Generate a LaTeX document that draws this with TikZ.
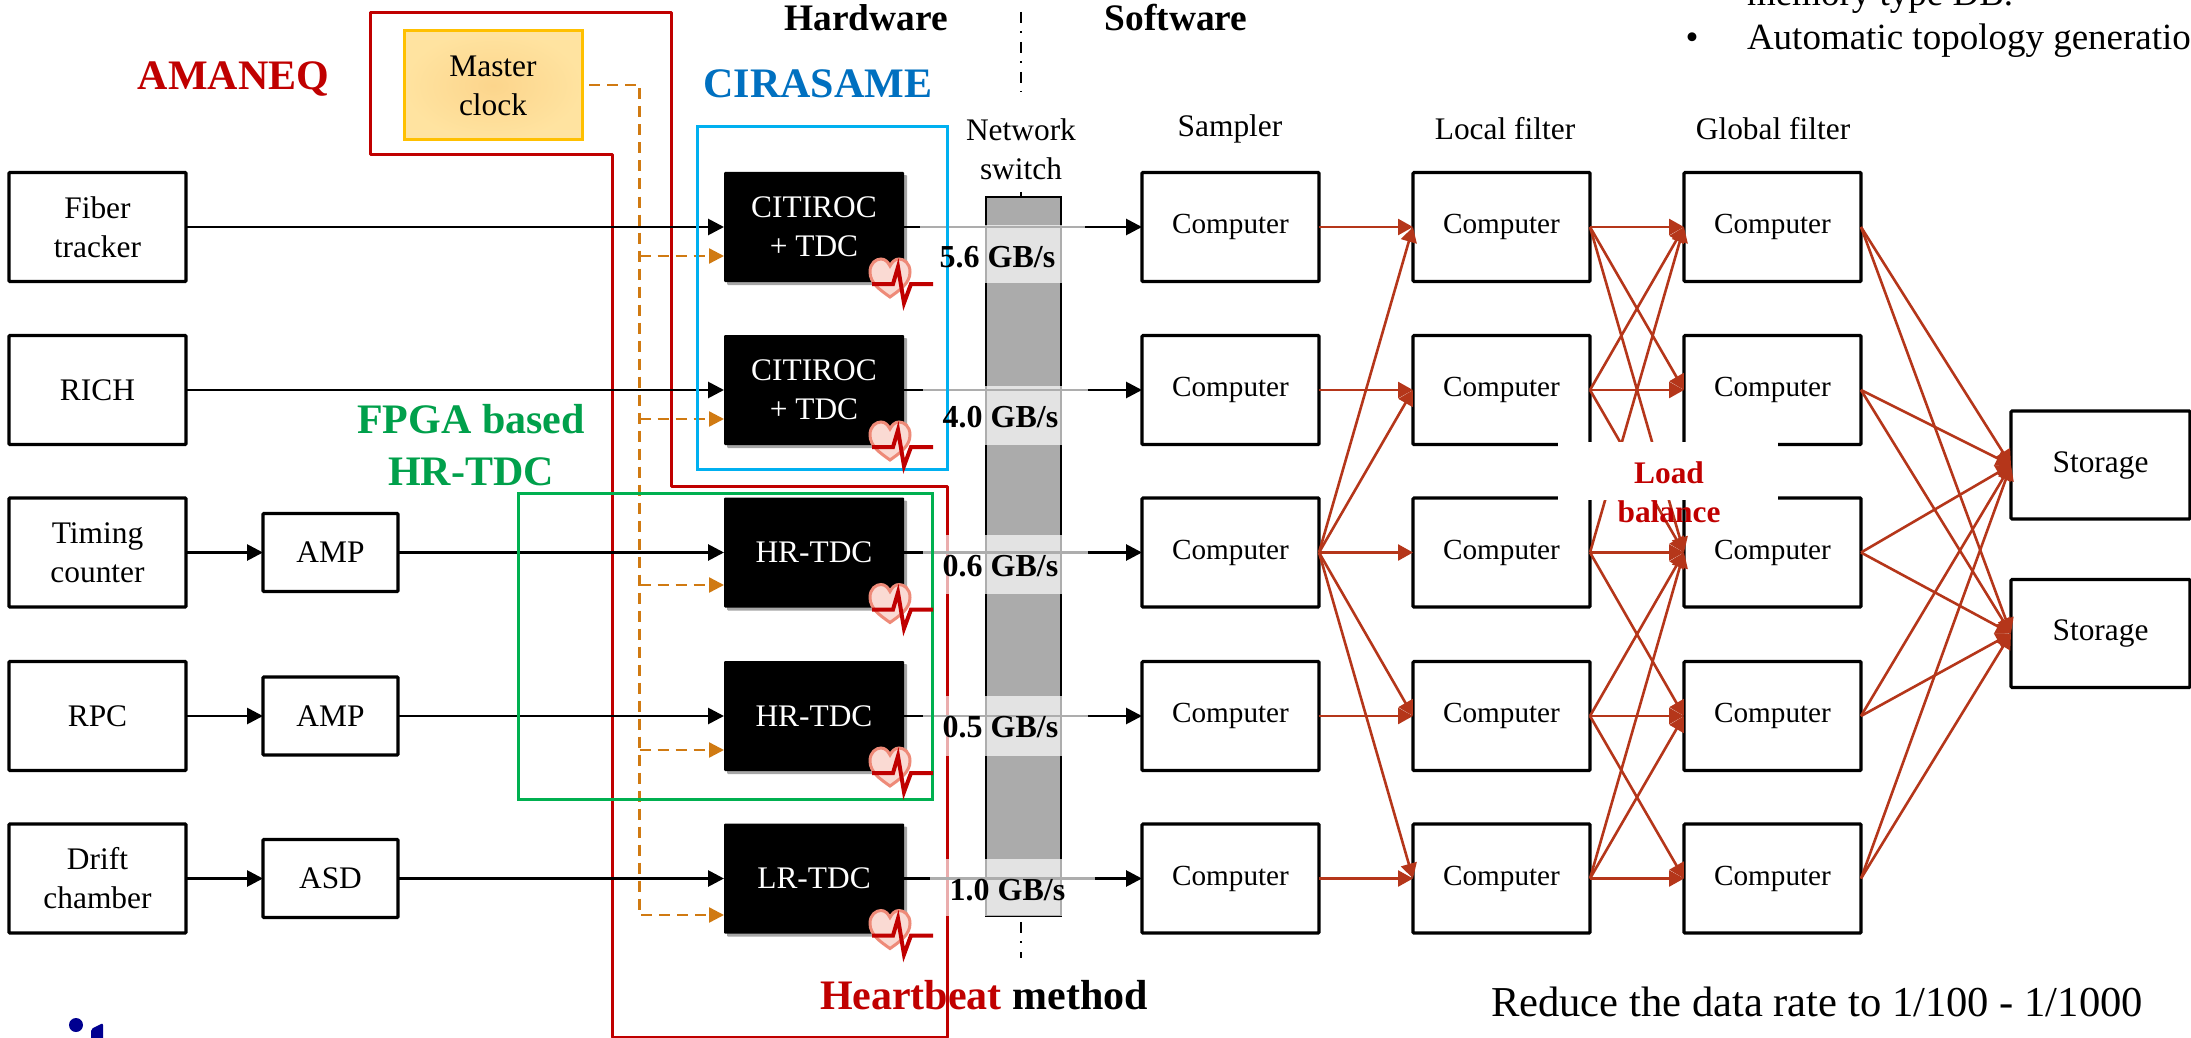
\documentclass[tikz,border=0pt]{standalone}
\usepackage{fontspec}
\setmainfont{Liberation Serif}
\usetikzlibrary{arrows.meta,shadows}
\definecolor{fred}{HTML}{C00000}
\definecolor{mesh}{HTML}{B5361A}
\definecolor{cyanframe}{HTML}{00B0F0}
\definecolor{greenframe}{HTML}{00B050}
\definecolor{bluetxt}{HTML}{0070C0}
\definecolor{greentxt}{HTML}{00A04B}
\definecolor{clockline}{HTML}{D07A12}
\definecolor{logoblue}{HTML}{000090}
\definecolor{heartfill}{HTML}{FADAD3}
\definecolor{heartline}{HTML}{EE8A78}
\tikzset{
  sz/.style 2 args={minimum width=#1*0.5pt,minimum height=#2*0.5pt},
  plain/.style={inner sep=0pt,outer sep=0pt,align=center,font=\fontsize{15.7}{19.5}\selectfont},
  boxn/.style={plain,draw=black,line width=1.6pt,rounded corners=0.5pt,fill=white},
  detbox/.style={boxn,sz={177}{109}},
  ampbox/.style={boxn,sz={135}{78}},
  compbox/.style={boxn,sz={177}{109},font=\fontsize{14.6}{19.5}\selectfont},
  storebox/.style={boxn,sz={179}{108}},
  tdcbox/.style={plain,fill=black,text=white,sz={180}{110},rounded corners=0.5pt,
    drop shadow={shadow xshift=1.6pt,shadow yshift=-1.6pt,opacity=.35,fill=black},
    },
  blk/.style={line width=1.4pt,draw=black,-{Triangle[length=8pt,width=8pt]}},
  clk/.style={line width=1.2pt,draw=clockline,dash pattern=on 5.5pt off 3.5pt,-{Triangle[length=7.5pt,width=7.5pt,fill=clockline]}},
  red/.style={line width=1.3pt,draw=mesh,-{Triangle[length=7.5pt,width=8pt,fill=mesh]}},
  bandn/.style={plain,fill=white,fill opacity=.68,text opacity=1},
  rate/.style={plain,font=\fontsize{16}{19}\selectfont\bfseries,text=black},
  bigb/.style={plain,font=\fontsize{21}{26}\selectfont\bfseries},
  headb/.style={plain,font=\fontsize{18.7}{22}\selectfont\bfseries},
  divl/.style={line width=1.2pt,draw=black,dash pattern=on 5.5pt off 4pt on 1pt off 4.5pt},
  hb/.pic={
    \draw[line width=1.5pt,draw=heartline,fill=heartfill]
      (-14,15) .. controls (-24,8) and (-34,1) .. (-34,-10)
      .. controls (-34,-19) and (-28,-23) .. (-23,-23)
      .. controls (-19,-23) and (-16,-20) .. (-14,-16)
      .. controls (-12,-20) and (-9,-23) .. (-5,-23)
      .. controls (0,-23) and (6,-19) .. (6,-10)
      .. controls (6,1) and (-4,8) .. (-14,15) -- cycle;
    \draw[line width=2pt,draw=fred,line join=miter]
      (-32,2) -- (-11,2) -- (-6,-15) -- (0,21) -- (7,2) -- (29,2);
  },
}
\begin{document}
\begin{tikzpicture}[x=0.5pt,y=-0.5pt]
\useasboundingbox (0,0) rectangle (2191,1038);
\clip (0,0) rectangle (2191,1038);
\fill[white] (0,0) rectangle (2191,1038);

% divider
\coordinate (da) at (1021,12); \coordinate (db) at (1021,92);
\coordinate (dc) at (1021,192); \coordinate (dd) at (1021,198);
\coordinate (de) at (1021,922); \coordinate (df) at (1021,958);
\draw[divl] (da) -- (db);
\draw[line width=1.2pt] (dc) -- (dd);
\draw[divl] (de) -- (df);

% AMANEQ frame
\draw[line width=1.5pt,draw=fred,line join=round]
  (370,13) -- (671,13) -- (671,486) -- (947,486) -- (947,1037) -- (612,1037) -- (612,155) -- (370,155) -- cycle;

% switch
\node[plain,draw=black,line width=1.4pt,fill=black!33,sz={75}{719}] (sw) at (1023.5,556.5) {};

% detector boxes
\node[detbox] (d1) at (97.5,227) {Fiber\\tracker};
\node[detbox] (d2) at (97.5,390) {RICH};
\node[detbox] (d3) at (97.5,552.5) {Timing\\counter};
\node[detbox] (d4) at (97.5,716) {RPC};
\node[detbox] (d5) at (97.5,878.5) {Drift\\chamber};
\node[ampbox] (a3) at (330.5,552.5) {AMP};
\node[ampbox] (a4) at (330.5,716) {AMP};
\node[ampbox] (a5) at (330.5,878.5) {ASD};

% TDCs
\node[tdcbox] (t1) at (814,227) {CITIROC\\+ TDC};
\node[tdcbox] (t2) at (814,390) {CITIROC\\+ TDC};
\node[tdcbox] (t3) at (814,552.5) {HR-TDC};
\node[tdcbox] (t4) at (814,716) {HR-TDC};
\node[tdcbox] (t5) at (814,878.5) {LR-TDC};

% samplers, filters, storage
\foreach \r/\y in {1/227,2/390,3/552.5,4/716,5/878.5}{
  \node[compbox] (s\r) at (1230.5,\y) {Computer};
  \node[compbox] (l\r) at (1501.5,\y) {Computer};
  \node[compbox] (g\r) at (1772.5,\y) {Computer};
}
\node[storebox] (st1) at (2100.5,465) {Storage};
\node[storebox] (st2) at (2100.5,633.5) {Storage};

% master clock
\node[plain,draw={rgb,255:red,255;green,192;blue,0},line width=1.5pt,inner color={rgb,255:red,252;green,213;blue,140},outer color={rgb,255:red,255;green,227;blue,160},sz={178}{109}] (mc) at (493,85.5) {Master\\clock};

% black connectors
\draw[blk] (d1) -- (t1);
\draw[blk] (d2) -- (t2);
\draw[blk] (d3) -- (a3);
\draw[blk] (d4) -- (a4);
\draw[blk] (d5) -- (a5);
\draw[blk] (a3) -- (t3);
\draw[blk] (a4) -- (t4);
\draw[blk] (a5) -- (t5);
\foreach \r in {1,...,5}{ \draw[blk] (t\r) -- (s\r); }

% clock distribution
\coordinate (ms) at (589,85);
\coordinate (mk) at (639.5,85);
\coordinate (b1) at (639.5,256);
\coordinate (b2) at (639.5,419);
\coordinate (b3) at (639.5,585);
\coordinate (b4) at (639.5,750);
\coordinate (b5) at (639.5,915);
\draw[clk] (ms) -- (mk) -- (b5) -- (b5 -| t5.west);
\foreach \r in {1,...,4}{ \draw[clk] (b\r) -- (b\r -| t\r.west); }

% rate bands
\node[bandn,sz={165}{58}] (r1) at (1002.5,254) {};
\node[bandn,sz={165}{59}] (r2) at (1005.5,415.5) {};
\node[bandn,sz={165}{59}] (r3) at (1005.5,564.5) {};
\node[bandn,sz={165}{60}] (r4) at (1005.5,726) {};
\node[bandn,sz={165}{57}] (r5) at (1012.5,887.5) {};

% frames
\node[plain,draw=cyanframe,line width=1.5pt,sz={250}{342}] (cf) at (822,298) {};
\node[plain,draw=greenframe,line width=1.5pt,sz={414}{306}] (gf) at (725,646) {};

% rate text
\node[rate] (q1) at (997.5,257) {5.6 GB/s};
\node[rate] (q2) at (1000.5,417) {4.0 GB/s};
\node[rate] (q3) at (1000.5,566) {0.6 GB/s};
\node[rate] (q4) at (1000.5,727) {0.5 GB/s};
\node[rate] (q5) at (1007.5,890) {1.0 GB/s};

% hearts
\pic at (t1.south east) {hb};
\pic at (t2.south east) {hb};
\pic at (t3.south east) {hb};
\pic at (t4.south east) {hb};
\pic at (t5.south east) {hb};

% sampler to local
\foreach \r in {1,...,5}{ \draw[red] (s\r.east) -- (l\r.west); }
\foreach \r in {1,2,4,5}{ \draw[red] (s3.east) -- (l\r.west); }

% local to global
\foreach \a/\b in {1/1,1/2,1/3,2/1,2/2,2/3,3/1,3/3,3/4,4/3,4/4,4/5,5/3,5/4,5/5}{
  \draw[red] (l\a.east) -- (g\b.west);
}
% global to storage
\foreach \r in {1,...,5}{
  \draw[red] (g\r.east) -- (st1.west);
  \draw[red] (g\r.east) -- (st2.west);
}

% load balance
\node[plain,fill=white,sz={220}{58}] (lbw) at (1668,471) {};
\node[plain,text=fred,font=\fontsize{15.7}{19.5}\selectfont\bfseries] (lb) at (1669,492) {Load\\balance};

% titles
\node[headb] (hw) at (866,18) {Hardware};
\node[headb] (sw2) at (1176,18) {Software};
\node[bigb,text=fred] (am) at (233.5,79) {AMANEQ};
\node[bigb,text=bluetxt] (cir) at (818,84) {CIRASAME};
\node[bigb,text=greentxt] (fp) at (471,445) {FPGA based\\HR-TDC};
\node[plain] (ns) at (1021,149) {Network\\switch};
\node[plain] (h1) at (1230,129) {Sampler};
\node[plain] (h2) at (1505,129) {Local filter};
\node[plain] (h3) at (1773,129) {Global filter};
\node[bigb,anchor=west] (hm) at (820,995) {\textcolor{fred}{Heartbeat} method};
\node[plain,anchor=west,font=\fontsize{21.3}{26}\selectfont] (rd) at (1491,1002) {Reduce the data rate to 1/100 - 1/1000};

% top-right text
\node[plain,anchor=base west,font=\fontsize{18.5}{22}\selectfont] (tr1) at (1747,6) {memory type DB.};
\node[plain,anchor=base,font=\fontsize{18.5}{22}\selectfont] (tb) at (1692,50) {•};
\node[plain,anchor=base west,font=\fontsize{18.5}{22}\selectfont] (tr2) at (1747,50) {Automatic topology generation};

% logo fragment
\fill[logoblue] (76,1025) circle (7);
\fill[logoblue,rounded corners=1pt] (91,1040) -- (91,1029) -- (103,1023) -- (103,1040) -- cycle;
\end{tikzpicture}
\end{document}
